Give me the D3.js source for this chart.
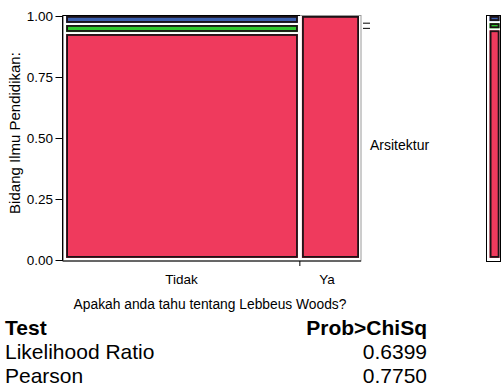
<!DOCTYPE html>
<html>
<head>
<meta charset="utf-8">
<script src="https://cdn.jsdelivr.net/npm/d3@7"></script>
<style>
  html, body { margin: 0; padding: 0; background: #fff; }
  svg { display: block; font-family: "Liberation Sans", Arial, Helvetica, sans-serif; }
</style>
</head>
<body>
<svg id="chart" width="503" height="387"></svg>
<script>
// Contingency counts: knowledge of Lebbeus Woods (columns) by field of study (stacked levels, bottom first)
const answers = ["Tidak", "Ya"];
const fieldLevels = ["Arsitektur", "Desain", "Lainnya"];
const countsTidak = [50, 2, 2];
const countsYa = [14, 0, 0];
const levelColors = ["#EF3A5D", "#2FC82F", "#3B5FAE"];
const yTickValues = [0, 0.25, 0.5, 0.75, 1];
const testNames = ["Likelihood Ratio", "Pearson"];
const probChiSq = [0.6399, 0.7750];

const columns = [countsTidak, countsYa];
const svg = d3.select("#chart");
const outline = "#1c1216";

const y = d3.scaleLinear().domain([0, 1]).range([260, 16]);
const colTotals = columns.map(c => d3.sum(c));
const N = d3.sum(colTotals);
const x = d3.scaleLinear().domain([0, N]).range([63.5, 360.5]);
const colStarts = d3.cumsum([0, ...colTotals]);

// plot frame
svg.append("rect")
  .attr("x", 63.5).attr("y", 15.5).attr("width", 297.5).attr("height", 245.5)
  .attr("fill", "none").attr("stroke", "#9a9a9a").attr("stroke-width", 1);
svg.append("line").attr("x1", 62.5).attr("x2", 300).attr("y1", 15.5).attr("y2", 15.5)
  .attr("stroke", "#000").attr("stroke-width", 1);

// draws one mosaic cell: fill with a dark outline nudged up/right
function cell(g, x0, x1, yTop, yBot, color) {
  const w = x1 - x0, h = yBot - yTop;
  if (h <= 0 || w <= 0) return;
  g.append("rect").attr("x", x0).attr("y", yTop).attr("width", w).attr("height", h)
    .attr("fill", color);
  g.append("rect").attr("x", x0 + 1.1).attr("y", yTop + 0.9)
    .attr("width", Math.max(0, w - 2)).attr("height", Math.max(0, h - 2))
    .attr("fill", "none").attr("stroke", outline).attr("stroke-width", 1.8);
}

const mosaic = svg.append("g");
columns.forEach((counts, i) => {
  const n = colTotals[i];
  const cx0 = x(colStarts[i]) + 2.5;
  const cx1 = x(colStarts[i + 1]) - 1.5;
  const cum = d3.cumsum([0, ...counts]);
  counts.forEach((c, j) => {
    if (c === 0) return;
    const yBot = y(cum[j] / n);
    const yTop = y(cum[j + 1] / n);
    cell(mosaic, cx0, cx1, yTop, yBot - 2, levelColors[j]);
  });
});

// y axis
const yAxis = d3.axisLeft(y).tickValues(yTickValues).tickFormat(d3.format(".2f")).tickSize(7).tickSizeOuter(0);
const gy = svg.append("g").attr("transform", "translate(62.5,0)").call(yAxis);
gy.select(".domain").attr("stroke", "#000").attr("d", "M0,15.5V261");
gy.selectAll(".tick line").attr("stroke", "#000");
gy.selectAll(".tick text").attr("font-size", 13.5).attr("fill", "#000")
  .attr("x", -9.5).attr("dy", "0.36em").style("font-family", "'Liberation Sans', Arial, sans-serif");

// x axis: ticks at column boundaries, labels at column centres
const boundaries = colStarts.slice(1, -1);
const xAxis = d3.axisBottom(x).tickValues(boundaries).tickFormat("").tickSize(5).tickSizeOuter(0);
const gx = svg.append("g").attr("transform", "translate(0,261)").call(xAxis);
gx.select(".domain").attr("stroke", "#000").attr("d", "M62.5,0H361");
gx.selectAll(".tick line").attr("stroke", "#000");

answers.forEach((a, i) => {
  svg.append("text")
    .attr("x", (x(colStarts[i]) + x(colStarts[i + 1])) / 2 - (i === 1 ? 3 : 0))
    .attr("y", 284).attr("text-anchor", "middle").attr("font-size", 13.5).text(a);
});

svg.append("text").attr("x", 210).attr("y", 309).attr("text-anchor", "middle")
  .attr("font-size", 13.8).text("Apakah anda tahu tentang Lebbeus Woods?");

svg.append("text").attr("transform", "translate(20,133) rotate(-90)")
  .attr("text-anchor", "middle").attr("font-size", 15).text("Bidang Ilmu Pendidikan:");

// marginal distribution of field of study
const margCounts = fieldLevels.map((_, j) => d3.sum(columns, c => c[j]));
const margCum = d3.cumsum([0, ...margCounts]);
const marg = svg.append("g");
marg.append("rect").attr("x", 486.5).attr("y", 15.5).attr("width", 14).attr("height", 246)
  .attr("fill", "none").attr("stroke", "#000").attr("stroke-width", 1);
margCounts.forEach((c, j) => {
  if (c === 0) return;
  const yBot = y(margCum[j] / N);
  const yTop = y(margCum[j + 1] / N);
  cell(marg, 489.5, 499.5, yTop, yBot - 2, levelColors[j]);
});

// right-side level label and short marks for the small levels
const redMid = y(margCum[1] / N / 2);
svg.append("text").attr("x", 370).attr("y", redMid).attr("dy", "0.35em")
  .attr("font-size", 14).text(fieldLevels[0]);
[y(margCum[2] / N), y(margCum[1] / N) - 2].forEach(yy => {
  svg.append("line").attr("x1", 363).attr("x2", 370).attr("y1", yy).attr("y2", yy)
    .attr("stroke", "#000").attr("stroke-width", 1);
});

// test table
const table = svg.append("g").attr("font-size", 21).attr("fill", "#000");
table.append("text").attr("x", 5).attr("y", 335).attr("font-weight", "bold").text("Test");
table.append("text").attr("x", 427).attr("y", 335).attr("font-weight", "bold")
  .attr("text-anchor", "end").text("Prob>ChiSq");
testNames.forEach((t, i) => {
  table.append("text").attr("x", 5).attr("y", 359 + i * 24).text(t);
  table.append("text").attr("x", 427).attr("y", 359 + i * 24).attr("text-anchor", "end")
    .text(d3.format(".4f")(probChiSq[i]));
});
</script>
</body>
</html>
